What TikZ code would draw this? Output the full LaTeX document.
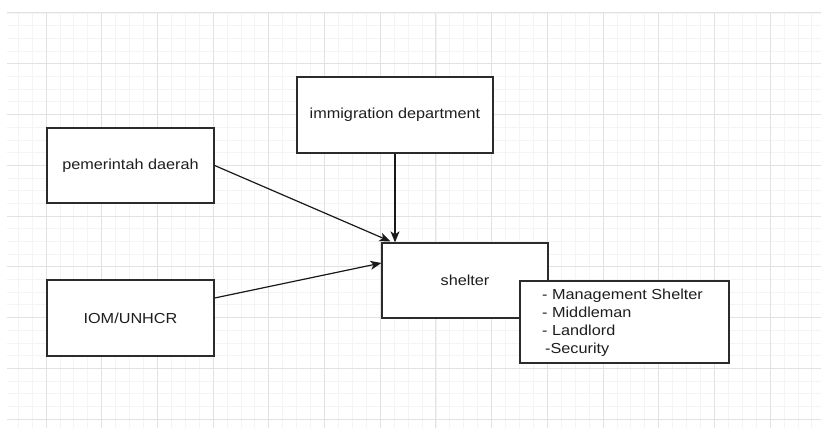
\documentclass[tikz,border=0pt]{standalone}
\usepackage{fontspec}
\setmainfont{Liberation Sans}[FakeStretch=1.12]
\usetikzlibrary{arrows.meta,calc}
\definecolor{minorgrid}{HTML}{F4F4F4}
\definecolor{majorgrid}{HTML}{E2E2E2}
\definecolor{boxline}{HTML}{2B2B2B}
\definecolor{txt}{HTML}{1E1E1E}
\tikzset{
  box/.style={draw=boxline, line width=1.3pt, fill=white, inner sep=0pt,
    text=txt, font=\fontsize{14.5}{18}\selectfont},
  conn/.style={draw=black!90, line width=1.2pt,
    -{Stealth[length=11pt,width=9pt,inset=3pt]}},
  gminor/.style={draw=minorgrid, line width=0.8pt},
  gmajor/.style={draw=majorgrid, line width=1pt}
}
\begin{document}
\begin{tikzpicture}[x=1pt,y=-1pt]
\useasboundingbox (0,0) rectangle (821,428);
\fill[white] (0,0) rectangle (821,428);
% grid
\begin{scope}
\clip (7,13) rectangle (821,428);
\foreach \i in {-3,...,56} {
  \pgfmathsetmacro\xx{46+\i*13.925}
  \draw[gminor] (\xx,13) -- (\xx,428);
}
\foreach \j in {0,...,33} {
  \pgfmathsetmacro\yy{13+\j*12.69}
  \draw[gminor] (7,\yy) -- (821,\yy);
}
\foreach \i in {0,...,14} {
  \pgfmathsetmacro\xx{46+\i*55.7}
  \draw[gmajor] (\xx,13) -- (\xx,428);
}
\foreach \j in {0,...,8} {
  \pgfmathsetmacro\yy{13+\j*50.76}
  \draw[gmajor] (7,\yy) -- (821,\yy);
}
\end{scope}
% nodes
\node[box, minimum width=167pt, minimum height=75pt] (pd) at (130.5,165.5) {pemerintah daerah};
\node[box, minimum width=167pt, minimum height=76pt] (iom) at (130.5,318) {IOM/UNHCR};
\node[box, minimum width=196pt, minimum height=76pt] (imm) at (395,115) {immigration department};
\node[box, minimum width=166pt, minimum height=75pt] (shelter) at (465,280.5) {shelter};
\node[box, minimum width=209pt, minimum height=82pt] (list) at (624.5,322) {};
\node[anchor=north west, inner sep=0pt, align=left, text=txt,
  font=\fontsize{14.5}{18}\selectfont] (listtext) at (542,289)
  {- Management Shelter\\- Middleman\\- Landlord\\\hspace*{3pt}-Security};
% connectors
\draw[conn] (pd.east) -- ([xshift=9pt,yshift=1pt]shelter.north west);
\draw[conn] (imm.south) -- (imm.south |- shelter.north);
\draw[conn] ([yshift=20pt]iom.east) -- ([yshift=17.5pt]shelter.west);
\end{tikzpicture}
\end{document}
